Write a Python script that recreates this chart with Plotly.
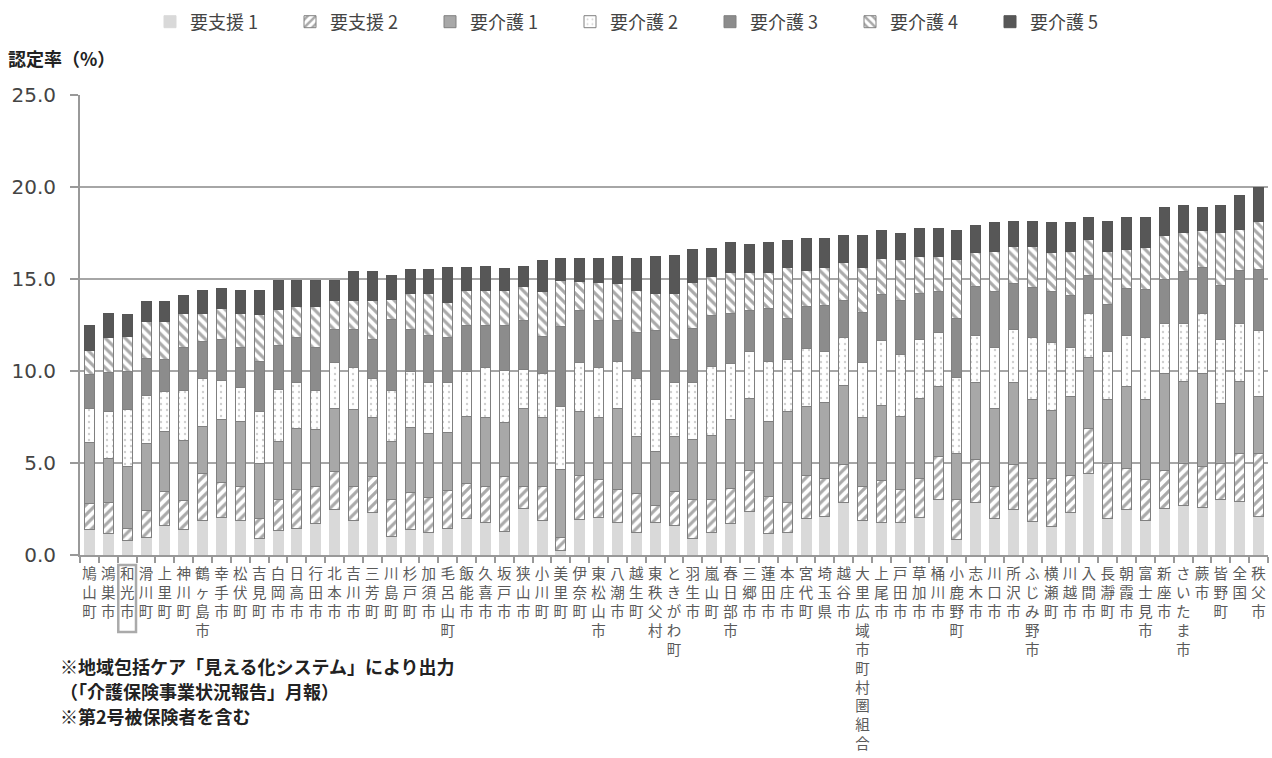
import plotly.graph_objects as go

# 要介護（要支援）認定率の内訳（%）— 保険者別
categories = [
    "鳩山町", "鴻巣市", "和光市", "滑川町", "上里町", "神川町", "鶴ヶ島市", "幸手市", "松伏町", "吉見町",
    "白岡市", "日高市", "行田市", "北本市", "吉川市", "三芳町", "川島町", "杉戸町", "加須市", "毛呂山町",
    "飯能市", "久喜市", "坂戸市", "狭山市", "小川町", "美里町", "伊奈町", "東松山市", "八潮市", "越生町",
    "東秩父村", "ときがわ町", "羽生市", "嵐山町", "春日部市", "三郷市", "蓮田市", "本庄市", "宮代町", "埼玉県",
    "越谷市", "大里広域市町村圏組合", "上尾市", "戸田市", "草加市", "桶川市", "小鹿野町", "志木市", "川口市", "所沢市",
    "ふじみ野市", "横瀬町", "川越市", "入間市", "長瀞町", "朝霞市", "富士見市", "新座市", "さいたま市", "蕨市",
    "皆野町", "全国", "秩父市",
]

shien1 = [1.4, 1.15, 0.8, 0.95, 1.6, 1.4, 1.9, 2.05, 1.85, 0.9,
          1.35, 1.45, 1.7, 2.5, 1.85, 2.3, 1.0, 1.4, 1.25, 1.45,
          2.0, 1.75, 1.3, 2.55, 1.9, 0.25, 1.95, 2.05, 1.75, 1.2,
          1.75, 1.6, 0.9, 1.2, 1.7, 2.35, 1.15, 1.25, 2.0, 2.1,
          2.85, 1.9, 1.75, 1.75, 2.05, 3.0, 0.85, 2.85, 2.0, 2.45,
          1.8, 1.55, 2.3, 4.45, 2.0, 2.5, 1.9, 2.55, 2.7, 2.6,
          3.0, 2.9, 2.1]

shien2 = [1.4, 1.7, 0.65, 1.45, 1.85, 1.55, 2.55, 1.9, 1.85, 1.1,
          1.65, 2.1, 2.0, 2.05, 1.85, 1.95, 2.0, 2.0, 1.9, 2.05,
          1.9, 1.95, 2.95, 1.2, 1.85, 0.7, 2.35, 2.05, 1.8, 2.15,
          0.95, 1.85, 2.1, 1.8, 1.9, 2.25, 2.05, 1.6, 2.3, 2.05,
          2.05, 1.8, 2.3, 1.8, 2.1, 2.35, 2.15, 2.35, 1.75, 2.45,
          2.35, 2.6, 2.0, 2.45, 2.95, 2.2, 2.2, 2.05, 2.3, 2.2,
          2.0, 2.6, 3.4]

kaigo1 = [3.3, 2.4, 3.35, 3.65, 3.25, 3.3, 2.55, 3.4, 3.55, 2.95,
          3.15, 3.35, 3.1, 3.4, 4.2, 3.25, 3.15, 3.55, 3.45, 3.15,
          3.65, 3.8, 2.95, 4.2, 3.7, 3.7, 3.5, 3.35, 4.4, 3.1,
          2.95, 3.0, 3.3, 3.5, 3.75, 3.9, 4.05, 4.95, 3.75, 4.15,
          4.3, 3.8, 4.05, 4.0, 4.35, 3.8, 2.5, 4.2, 4.2, 4.45,
          4.3, 3.7, 4.3, 3.85, 3.5, 4.45, 4.35, 5.25, 4.45, 5.05,
          3.25, 3.95, 3.1]

kaigo2 = [1.85, 2.55, 3.1, 2.6, 2.2, 2.7, 2.6, 2.15, 1.85, 2.85,
          2.85, 2.5, 2.15, 2.5, 2.3, 2.1, 2.8, 3.0, 2.75, 2.7,
          2.4, 2.7, 2.85, 2.15, 2.4, 3.4, 2.65, 2.75, 2.55, 3.15,
          2.8, 2.95, 3.1, 3.75, 3.05, 2.55, 3.25, 2.85, 3.15, 2.75,
          2.6, 2.95, 3.55, 3.35, 3.2, 2.95, 4.15, 2.55, 3.35, 2.9,
          3.35, 3.7, 2.7, 2.35, 2.6, 2.8, 3.35, 2.75, 3.15, 3.25,
          3.45, 3.15, 3.6]

kaigo3 = [1.85, 2.1, 2.05, 2.05, 1.7, 2.35, 2.0, 2.2, 2.2, 2.7,
          2.4, 2.4, 2.35, 1.8, 2.05, 2.1, 3.85, 2.3, 2.6, 2.45,
          2.5, 2.25, 2.45, 2.65, 2.05, 4.35, 2.85, 2.55, 2.25, 2.5,
          3.75, 2.3, 2.9, 2.75, 2.75, 2.25, 2.9, 2.2, 2.3, 2.5,
          2.05, 2.75, 2.5, 2.95, 2.5, 2.2, 3.2, 2.65, 3.0, 2.5,
          2.75, 2.75, 2.8, 2.1, 2.55, 2.55, 2.65, 2.35, 2.8, 2.5,
          2.95, 2.85, 3.3]

kaigo4 = [1.3, 1.9, 1.9, 2.0, 2.1, 1.8, 1.55, 1.7, 1.85, 2.55,
          1.95, 1.7, 2.2, 1.6, 1.6, 2.15, 1.1, 1.95, 2.25, 1.9,
          1.9, 1.9, 1.85, 1.85, 2.4, 2.5, 1.55, 2.05, 2.0, 2.25,
          2.0, 2.5, 2.5, 2.15, 2.2, 2.05, 1.95, 2.75, 1.95, 2.05,
          2.05, 2.4, 1.95, 2.2, 2.05, 1.95, 3.2, 1.85, 2.2, 2.0,
          2.2, 2.15, 2.4, 1.95, 2.9, 2.1, 2.25, 2.4, 2.15, 2.05,
          2.9, 2.25, 2.65]

kaigo5 = [1.35, 1.33, 1.2, 1.1, 1.1, 1.0, 1.2, 1.1, 1.25, 1.35,
          1.55, 1.4, 1.4, 1.05, 1.55, 1.55, 1.3, 1.3, 1.3, 1.95,
          1.3, 1.35, 1.2, 1.1, 1.7, 1.2, 1.25, 1.3, 1.5, 1.75,
          2.05, 2.1, 1.8, 1.5, 1.65, 1.5, 1.65, 1.5, 1.75, 1.6,
          1.45, 1.75, 1.55, 1.45, 1.5, 1.5, 1.6, 1.45, 1.55, 1.4,
          1.4, 1.6, 1.55, 1.2, 1.65, 1.75, 1.65, 1.55, 1.45, 1.25,
          1.45, 1.85, 1.8]

series_names = ["要支援 1", "要支援 2", "要介護 1", "要介護 2", "要介護 3", "要介護 4", "要介護 5"]
series_values = [shien1, shien2, kaigo1, kaigo2, kaigo3, kaigo4, kaigo5]

y_ticks = [0, 5, 10, 15, 20, 25]
highlight = "和光市"
notes = [
    "※地域包括ケア「見える化システム」により出力",
    "（「介護保険事業状況報告」月報）",
    "※第2号被保険者を含む",
]

# canvas and plot-area geometry (px)
W, H = 1272, 758
ML, MR, MT, MB = 80, 4, 95, 203
PW, PH = W - ML - MR, H - MT - MB

def px_x(px):
    return (px - ML) / PW

def px_y(py):
    return (H - MB - py) / PH

OUTLINE = "#808080"
styles = [
    dict(color="#d9d9d9", line=dict(color="#d9d9d9", width=1)),
    dict(color="white", line=dict(color=OUTLINE, width=1),
         pattern=dict(shape="/", fgcolor="#555555", bgcolor="white", size=7, solidity=0.45)),
    dict(color="#a8a8a8", line=dict(color=OUTLINE, width=1)),
    dict(color="white", line=dict(color=OUTLINE, width=1),
         pattern=dict(shape=".", fgcolor="#a0a0a0", bgcolor="white", size=6, solidity=0.12)),
    dict(color="#8c8c8c", line=dict(color=OUTLINE, width=1)),
    dict(color="white", line=dict(color=OUTLINE, width=1),
         pattern=dict(shape="\\", fgcolor="#555555", bgcolor="white", size=7, solidity=0.45)),
    dict(color="#575757", line=dict(color="#555555", width=1)),
]

tick_text = ["<br>".join(list(name)) for name in categories]

fig = go.Figure()
for name, vals, st in zip(series_names, series_values, styles):
    fig.add_trace(go.Bar(x=categories, y=vals, name=name, marker=st))

fig.update_layout(
    width=W, height=H,
    margin=dict(l=ML, r=MR, t=MT, b=MB, autoexpand=False),
    barmode="stack",
    bargap=0.47,
    plot_bgcolor="white",
    paper_bgcolor="white",
    font=dict(family="Noto Sans CJK JP", color="#444444"),
    legend=dict(
        orientation="h",
        xref="container", yref="container",
        x=150 / W, xanchor="left",
        y=1 - 22 / H, yanchor="middle",
        font=dict(size=18, color="#444444"),
        entrywidth=95, entrywidthmode="pixels",
        traceorder="normal",
    ),
    showlegend=True,
)

fig.update_xaxes(
    type="category",
    categoryorder="array", categoryarray=categories,
    tickmode="array", tickvals=categories, ticktext=tick_text,
    tickangle=0,
    tickfont=dict(size=14.5, color="#5a5a5a", family="Noto Sans CJK JP"),
    ticks="outside", tickson="boundaries", ticklen=6, tickcolor="#999999", tickwidth=1.5,
    ticklabelstandoff=5,
    showline=True, linecolor="#999999", linewidth=2,
    showgrid=False,
)

fig.update_yaxes(
    range=[0, 25],
    tickmode="array", tickvals=y_ticks,
    tickformat=".1f",
    tickfont=dict(size=20, color="#444444", family="DejaVu Sans"),
    ticks="outside", ticklen=8, tickcolor="#999999", tickwidth=2,
    ticklabelstandoff=10,
    showline=True, linecolor="#999999", linewidth=2,
    showgrid=True, gridcolor="#a6a6a6", gridwidth=2,
    zeroline=False,
)

# y-axis caption
fig.add_annotation(
    text="<b>認定率（%）</b>", xref="paper", yref="paper",
    x=px_x(6), y=px_y(58), xanchor="left", yanchor="middle",
    showarrow=False, font=dict(size=18, color="#222222"),
)

# box around the highlighted municipality label
hi = categories.index(highlight)
fig.add_shape(
    type="rect", xref="x", yref="paper",
    x0=hi - 0.47, x1=hi + 0.47, y0=px_y(565), y1=px_y(632),
    line=dict(color="#aaaaaa", width=2.5), fillcolor="rgba(0,0,0,0)", layer="above",
)

# source notes, one line each
for i, line in enumerate(notes):
    fig.add_annotation(
        text=f"<b>{line}</b>",
        xref="paper", yref="paper",
        x=px_x(58), y=px_y(666 + 25 * i), xanchor="left", yanchor="middle", align="left",
        showarrow=False, font=dict(size=18, color="#222222"),
    )

fig.write_html("out.html")
